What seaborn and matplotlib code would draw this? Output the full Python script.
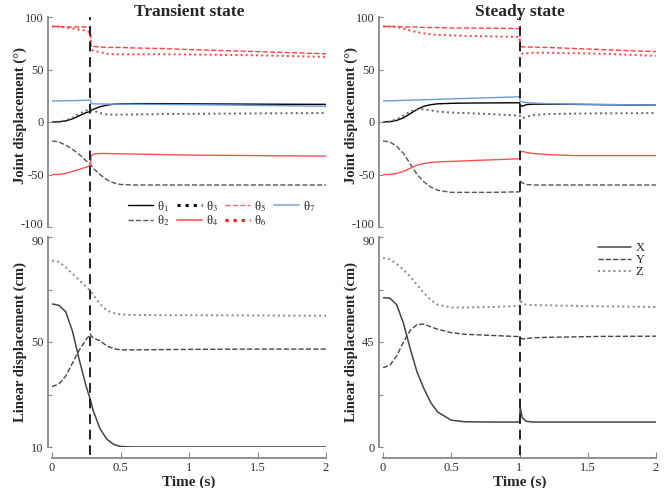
import numpy as np
import matplotlib
matplotlib.use('Agg')
import matplotlib.pyplot as plt
import matplotlib.transforms as mtransforms
import seaborn as sns

# time knots
t_left = [0, 0.05, 0.1, 0.15, 0.2, 0.25, 0.28, 0.285, 0.3, 0.35, 0.4, 0.45, 0.5, 0.6, 0.8, 1.0, 1.5, 2.0]
t_right = [0, 0.05, 0.1, 0.15, 0.2, 0.25, 0.3, 0.35, 0.4, 0.5, 0.6, 0.8, 1.0, 1.005, 1.02, 1.05, 1.1, 1.2, 1.4, 1.6, 2.0]
switch_left = 0.28
switch_right = 1.0

# joint angles (deg), transient state
th1_left = [0, 0.2, 1, 3, 6, 9, 10, 10.5, 12, 14.5, 16, 17, 17.3, 17.5, 17.5, 17.3, 17, 16.8]
th2_left = [-18, -19, -22, -26, -31, -37, -40, -41, -44, -50, -55, -58, -59.5, -60, -60, -60, -60, -60]
th3_left = [0, 0.3, 1.5, 4, 8, 11, 12, 12, 11, 8.5, 7.2, 7, 7, 7.2, 7.5, 7.8, 8.2, 8.5]
th4_left = [-50, -50, -49, -47, -45, -43, -41, -33, -30.5, -30, -30, -30.2, -30.3, -30.5, -31, -31.5, -32, -32.5]
th5_left = [91, 91, 90.5, 90.5, 90.5, 90.5, 90, 73, 72, 71.5, 71, 71, 71, 70.5, 70, 69, 67, 65]
th6_left = [91, 90.8, 90, 89, 88, 87, 85, 69, 68, 66.5, 65, 64.5, 64.5, 64.5, 64.5, 64.3, 63.5, 62]
th7_left = [20, 20.1, 20.2, 20.3, 20.5, 20.7, 21, 17.5, 17.3, 17.2, 17.1, 17, 17, 16.9, 16.7, 16.5, 15.8, 15]

# joint angles (deg), steady state
th1_right = [0, 0.3, 1.5, 4, 8, 12, 15, 16.5, 17.3, 17.8, 18, 18.2, 18.3, 16.5, 15, 16.5, 17, 17, 16.8, 16.5, 16]
th2_right = [-18, -19, -23, -30, -40, -50, -57, -62, -65, -67, -67, -67, -66.5, -56, -58, -59.5, -60, -60, -60, -60, -60]
th3_right = [0, 0.5, 2.5, 6, 10, 12, 12, 11, 10, 9, 8.5, 7.5, 6, 5.5, 3.5, 5, 6.5, 7.5, 8, 8.2, 8.5]
th4_right = [-50, -50, -49, -47, -44, -41, -39.5, -38.5, -38, -37.5, -37, -36, -35, -29, -28, -29, -30, -31, -32, -32, -32]
th5_right = [91, 91, 91, 90.5, 90.5, 90.5, 90, 90, 90, 89.5, 89.5, 89.3, 89, 72, 71.5, 71.5, 71.3, 71, 70, 69, 67]
th6_right = [91, 90.8, 90.5, 89, 87, 85.5, 84.5, 83.5, 83, 82.5, 82, 81.5, 81, 66, 65, 65.5, 66, 66, 65.5, 65, 63]
th7_right = [20, 20.2, 20.4, 20.6, 20.8, 21, 21.2, 21.4, 21.6, 22, 22.4, 23.2, 24, 19.5, 19, 18.5, 18, 17.5, 17, 16.8, 16]

# linear displacement (cm)
x_left = [64.5, 64, 61.5, 54, 43, 33, 28, 27, 24, 17, 13, 11, 10.2, 10, 10, 10, 10, 10]
y_left = [33, 34, 37, 42, 47, 51, 53, 52.5, 51.5, 50.5, 48.5, 47.5, 47, 47, 47.1, 47.2, 47.3, 47.3]
z_left = [81, 80.5, 78.5, 76, 73.5, 71, 69.5, 69.3, 68, 64.5, 62, 61, 60.5, 60.3, 60.2, 60.2, 60.1, 60]

x_right = [64, 63.8, 61, 53, 42, 32, 25, 19, 15, 11.5, 10.8, 10.7, 10.7, 17, 12.5, 11, 10.7, 10.7, 10.7, 10.7, 10.7]
y_right = [34, 35, 39, 45, 50, 52.5, 52.7, 51.5, 50.5, 49, 48.3, 47.8, 47.3, 47, 46.3, 46.5, 46.8, 47, 47.2, 47.4, 47.5]
z_right = [81, 80.5, 78.5, 76, 73, 69.5, 66, 63, 61, 59.8, 59.8, 60, 60.5, 63.5, 61.5, 61, 60.8, 60.7, 60.5, 60.3, 60]

theta_labels = ['θ$_1$', 'θ$_2$', 'θ$_3$', 'θ$_4$', 'θ$_5$', 'θ$_6$', 'θ$_7$']
theta_styles = [('black', '-', 1.0), ('#555555', '--', 1.0), ('#666666', ':', 1.4), ('#ff5050', '-', 1.0),
                ('#ff4040', '--', 1.0), ('#ff4040', ':', 1.4), ('#6a9ad8', '-', 1.0)]
legend_styles = [('black', '-', 1.0), ('#555555', '--', 1.0), ('black', ':', 2.2), ('#ff7070', '-', 1.5),
                 ('#ff6060', '--', 1.0), ('#ff1010', ':', 2.2), ('#9bb8e0', '-', 1.5)]
xyz_labels = ['X', 'Y', 'Z']
xyz_styles = [('#444444', '-', 1.1), ('#444444', '--', 1.0), ('#888888', ':', 1.4)]

sns.set_style('ticks')
plt.rcParams['font.family'] = ['Liberation Serif', 'DejaVu Serif']
plt.rcParams['mathtext.fontset'] = 'stix'

fig = plt.figure(figsize=(6.67, 4.88), dpi=100)
W, H = 667, 488


def add_ax(x0, x1, y0, y1):
    return fig.add_axes([x0 / W, 1 - y1 / H, (x1 - x0) / W, (y1 - y0) / H])


def style_ax(ax, show_x):
    for s in ['top', 'right']:
        ax.spines[s].set_visible(False)
    ax.spines['left'].set_position(('outward', 3))
    ax.spines['left'].set_color('#888888')
    ax.spines['left'].set_linewidth(1.3)
    ax.tick_params(axis='y', direction='in', length=3, color='#888888', labelsize=9, pad=3,
                   labelcolor='#333333')
    ax.set_xlim(0, 2)
    if show_x:
        ax.spines['bottom'].set_position(('outward', 8))
        ax.spines['bottom'].set_color('#888888')
        ax.spines['bottom'].set_linewidth(1.3)
        ax.set_xticks([0, 0.5, 1, 1.5, 2])
        ax.set_xticklabels(['0', '0.5', '1', '1.5', '2'])
        ax.tick_params(axis='x', direction='in', length=4, color='#888888', labelsize=9, pad=3,
                       labelcolor='#333333')
        ax.set_xlabel('Time (s)', fontsize=11, fontweight='bold', labelpad=1)
    else:
        ax.spines['bottom'].set_visible(False)
        ax.set_xticks([])


def nudge(ax, text, dy_px):
    off = mtransforms.ScaledTranslation(0, dy_px / 100, fig.dpi_scale_trans)
    for lab in ax.get_yticklabels():
        if lab.get_text() == text:
            lab.set_transform(lab.get_transform() + off)


panels = [
    (52, 326, t_left, switch_left,
     [th1_left, th2_left, th3_left, th4_left, th5_left, th6_left, th7_left],
     [x_left, y_left, z_left], [10, 30, 50, 70, 90], ['10', '', '50', '', '90'], (10, 90), 'Transient state'),
    (383, 656, t_right, switch_right,
     [th1_right, th2_right, th3_right, th4_right, th5_right, th6_right, th7_right],
     [x_right, y_right, z_right], [0, 22.5, 45, 67.5, 90], ['0', '', '45', '', '90'], (0, 90), 'Steady state'),
]

for i, (x0, x1, t, ts, thetas, xyz, lticks, lticklabels, llim, title) in enumerate(panels):
    ax_top = add_ax(x0, x1, 17, 227)
    ax_bot = add_ax(x0, x1, 237, 447)

    for vals, (c, ls, lw) in zip(thetas, theta_styles):
        sns.lineplot(x=t, y=vals, ax=ax_top, color=c, linestyle=ls, linewidth=lw)
    for vals, lab, (c, ls, lw) in zip(xyz, xyz_labels, xyz_styles):
        sns.lineplot(x=t, y=vals, ax=ax_bot, color=c, linestyle=ls, linewidth=lw, label=lab)

    ax_top.set_ylim(-100, 100)
    ax_top.set_yticks([-100, -50, 0, 50, 100])
    ax_top.set_yticklabels(['-100', '-50', '0', '50', '100'])
    ax_bot.set_ylim(*llim)
    ax_bot.set_yticks(lticks)
    ax_bot.set_yticklabels(lticklabels)

    style_ax(ax_top, False)
    style_ax(ax_bot, True)
    nudge(ax_top, '-100', 3)
    nudge(ax_bot, '90', -3)

    ax_top.set_ylabel('Joint displacement (°)', fontsize=10.5, fontweight='bold')
    ax_bot.set_ylabel('Linear displacement (cm)', fontsize=10.5, fontweight='bold')
    ax_top.yaxis.set_label_coords(-0.09, 0.53)
    ax_bot.yaxis.set_label_coords(-0.09, 0.5)
    fig.text((x0 + x1) / 2 / W, 1 - 12 / H, title, ha='center', va='center', fontsize=12.5, fontweight='bold')

    # switching instant, drawn through both panels
    ax_top.axvline(ts, ymin=-0.05, ymax=1.0, color='#222222', linestyle=(0, (5, 3)), linewidth=1.4, clip_on=False)
    ax_bot.axvline(ts, ymin=-0.04, ymax=1.0, color='#222222', linestyle=(0, (5, 3)), linewidth=1.4, clip_on=False)

    if i == 0:
        handles = [plt.Line2D([], [], color=c, linestyle=ls, linewidth=lw) for c, ls, lw in legend_styles]
        ax_top.legend(handles, theta_labels, ncol=4, loc='lower right', bbox_to_anchor=(1.0, -0.06),
                      frameon=False, fontsize=9, handlelength=2.0, columnspacing=0.6,
                      handletextpad=0.3, labelspacing=0.0)
        ax_bot.get_legend().remove()
    else:
        ax_bot.legend(loc='upper right', bbox_to_anchor=(1.0, 1.03), frameon=False, fontsize=9,
                      handlelength=2.6, handletextpad=0.4, labelspacing=0.0)

fig.savefig('out.png', dpi=100)
